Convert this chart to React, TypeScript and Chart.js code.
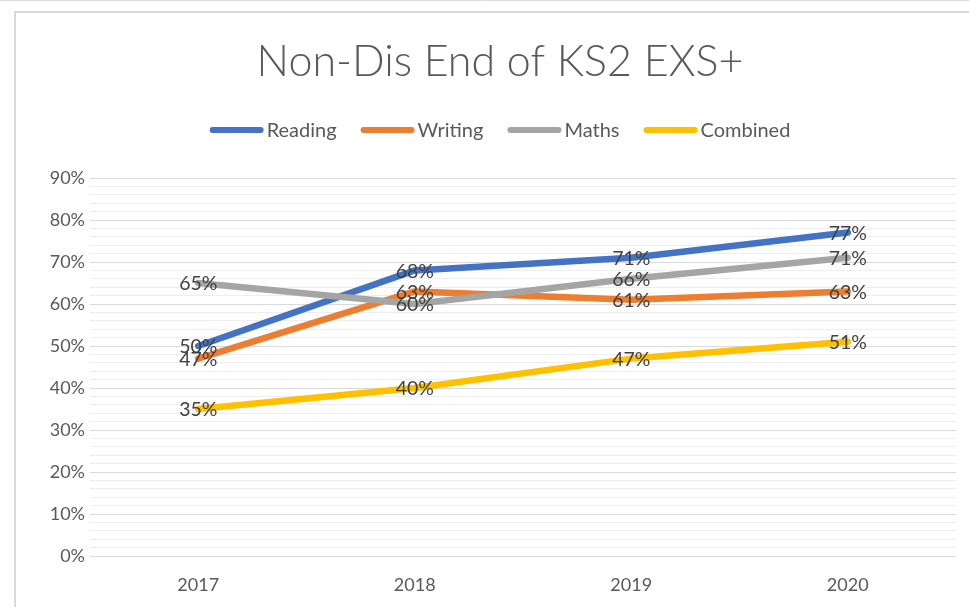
import React, { useEffect, useRef } from "react";
import { Chart, registerables } from "chart.js";

Chart.register(...registerables);

const categories = ["2017", "2018", "2019", "2020"];
const reading = [50, 68, 71, 77];
const writing = [47, 63, 61, 63];
const maths = [65, 60, 66, 71];
const combined = [35, 40, 47, 51];
const seriesNames = ["Reading", "Writing", "Maths", "Combined"];
const seriesColors = ["#4472C4", "#ED7D31", "#A5A5A5", "#FFC000"];
const titleText = "Non-Dis End of KS2 EXS+";
const yMin = 0;
const yMax = 90;
const yMinorStep = 2;
const yMajorStep = 10;

const FONT = "Lato, 'Open Sans', sans-serif";

const framePlugin = {
  id: "frame",
  beforeDraw(chart: any) {
    const ctx = chart.ctx;
    const W = chart.width;
    const H = chart.height;
    ctx.save();
    ctx.fillStyle = "#ffffff";
    ctx.fillRect(0, 0, W, H);
    ctx.strokeStyle = "#dcdcdc";
    ctx.lineWidth = 1;
    ctx.beginPath();
    ctx.moveTo(0, 0.5);
    ctx.lineTo(W, 0.5);
    ctx.stroke();
    ctx.lineWidth = 2;
    ctx.strokeStyle = "#d9d9d9";
    ctx.beginPath();
    ctx.moveTo(15, H + 2);
    ctx.lineTo(15, 12);
    ctx.lineTo(W + 2, 12);
    ctx.stroke();
    ctx.restore();
  },
};

const headerPlugin = {
  id: "header",
  afterDraw(chart: any) {
    const ctx = chart.ctx;
    const cx = 500;
    ctx.save();
    // title
    ctx.font = `300 43px ${FONT}`;
    ctx.fillStyle = "#595959";
    ctx.textAlign = "center";
    ctx.textBaseline = "alphabetic";
    ctx.fillText(titleText, cx, 76);
    // legend
    ctx.font = `20px ${FONT}`;
    const lineLen = 54;
    const gap = 3;
    const itemGap = 24;
    const widths = seriesNames.map((n) => ctx.measureText(n).width);
    const total =
      widths.reduce((a, b) => a + b, 0) +
      seriesNames.length * (lineLen + gap) +
      (seriesNames.length - 1) * itemGap;
    let x = cx - total / 2;
    const y = 130;
    ctx.textAlign = "left";
    ctx.textBaseline = "middle";
    seriesNames.forEach((name, i) => {
      ctx.strokeStyle = seriesColors[i];
      ctx.lineWidth = 6;
      ctx.lineCap = "round";
      ctx.beginPath();
      ctx.moveTo(x + 3, y);
      ctx.lineTo(x + lineLen - 3, y);
      ctx.stroke();
      ctx.fillStyle = "#595959";
      ctx.fillText(name, x + lineLen + gap, y + 1);
      x += lineLen + gap + widths[i] + itemGap;
    });
    ctx.restore();
  },
};

const labelPlugin = {
  id: "valueLabels",
  afterDatasetsDraw(chart: any) {
    const ctx = chart.ctx;
    ctx.save();
    ctx.font = `19.5px ${FONT}`;
    ctx.fillStyle = "#404040";
    ctx.textAlign = "center";
    ctx.textBaseline = "middle";
    chart.data.datasets.forEach((ds: any, i: number) => {
      const meta = chart.getDatasetMeta(i);
      meta.data.forEach((pt: any, j: number) => {
        ctx.fillText(ds.data[j] + "%", pt.x, pt.y + 1);
      });
    });
    ctx.restore();
  },
};

export default function App() {
  const canvasRef = useRef<HTMLCanvasElement | null>(null);

  useEffect(() => {
    const canvas = canvasRef.current;
    if (!canvas) return;
    const values = [reading, writing, maths, combined];
    const chart = new Chart(canvas, {
      type: "line",
      data: {
        labels: categories,
        datasets: seriesNames.map((name, i) => ({
          label: name,
          data: values[i],
          borderColor: seriesColors[i],
          backgroundColor: seriesColors[i],
          borderWidth: 6.5,
          borderCapStyle: "round",
          borderJoinStyle: "round",
          pointRadius: 0,
          pointHoverRadius: 0,
          tension: 0,
          fill: false,
          order: seriesNames.length - i,
        })),
      },
      options: {
        responsive: false,
        animation: false,
        events: [],
        layout: { padding: { top: 178, right: 13, bottom: 0, left: 0 } },
        plugins: {
          legend: { display: false },
          title: { display: false },
          tooltip: { enabled: false },
        },
        scales: {
          x: {
            offset: true,
            grid: { display: false, drawTicks: false },
            border: { display: false },
            ticks: {
              color: "#595959",
              font: { family: FONT, size: 18 },
              padding: 18,
            },
            afterFit(scale: any) {
              scale.height = 51;
            },
          },
          y: {
            min: yMin,
            max: yMax,
            border: { display: false },
            grid: {
              drawTicks: false,
              lineWidth: 1,
              color: (c: any) =>
                c.tick && c.tick.value % yMajorStep === 0 ? "#d9d9d9" : "#eeeeee",
            },
            ticks: {
              stepSize: yMinorStep,
              autoSkip: false,
              color: "#595959",
              font: { family: FONT, size: 18 },
              padding: 5,
              callback: (v: any) => (Number(v) % yMajorStep === 0 ? v + "%" : ""),
            },
            afterFit(scale: any) {
              scale.width = 90;
            },
          },
        },
      },
      plugins: [framePlugin, headerPlugin, labelPlugin],
    });
    return () => chart.destroy();
  }, []);

  return (
    <div style={{ position: "fixed", left: 0, top: 0, width: 969, height: 607 }}>
      <canvas ref={canvasRef} width={969} height={607} style={{ display: "block" }} />
    </div>
  );
}
